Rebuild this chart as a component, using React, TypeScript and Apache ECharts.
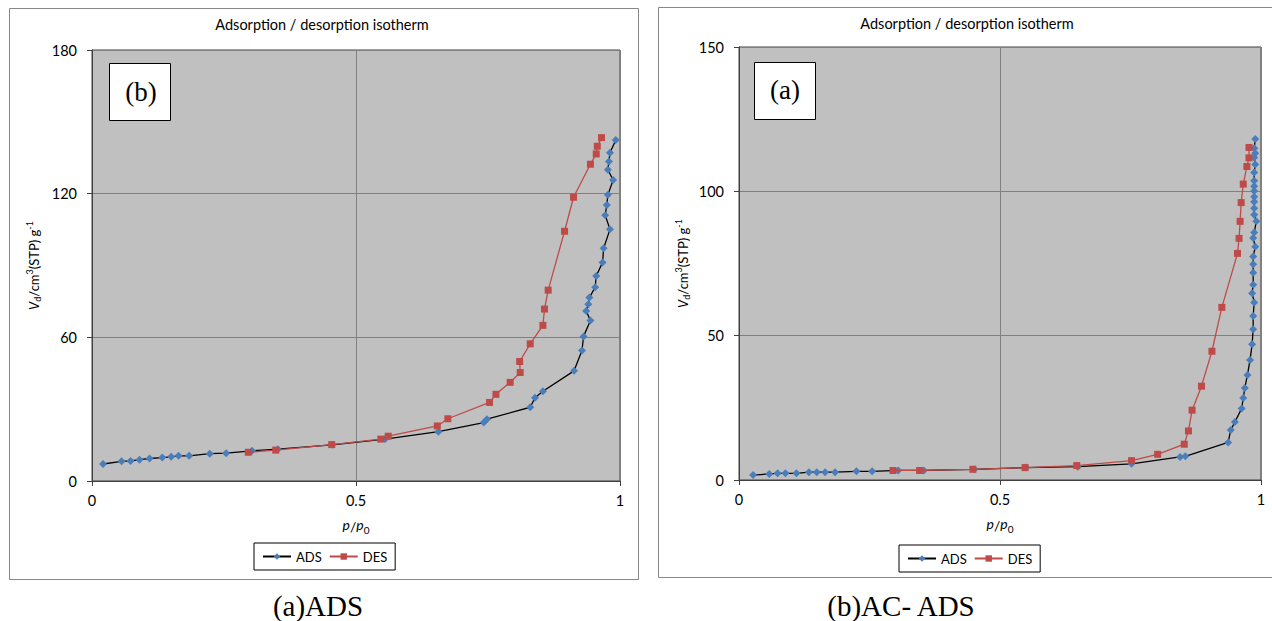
import React, { useEffect, useRef } from "react";
import * as echarts from "echarts";

// ---- Left chart "(b)" – caption (a)ADS ----
const adsLeftX = [0.021, 0.056, 0.073, 0.090, 0.109, 0.133, 0.150, 0.164, 0.184, 0.223, 0.254, 0.303, 0.352, 0.455, 0.555, 0.656, 0.742, 0.748, 0.830, 0.839, 0.854, 0.913, 0.928, 0.931, 0.944, 0.936, 0.940, 0.942, 0.953, 0.955, 0.967, 0.969, 0.981, 0.972, 0.975, 0.977, 0.987, 0.977, 0.979, 0.981, 0.992];
const adsLeftY = [7.1, 8.2, 8.4, 8.9, 9.4, 9.8, 10.1, 10.5, 10.5, 11.4, 11.6, 12.6, 13.3, 15.1, 17.5, 20.6, 24.4, 25.8, 30.8, 34.8, 37.5, 46.0, 54.5, 60.4, 67.0, 71.0, 73.8, 76.6, 80.9, 85.6, 91.3, 97.2, 105.1, 111.0, 115.3, 119.5, 125.7, 130.0, 133.4, 137.1, 142.4];
const desLeftX = [0.965, 0.957, 0.955, 0.944, 0.912, 0.895, 0.864, 0.857, 0.854, 0.830, 0.810, 0.811, 0.792, 0.765, 0.753, 0.674, 0.654, 0.561, 0.547, 0.454, 0.348, 0.296];
const desLeftY = [143.4, 139.8, 136.6, 132.3, 118.5, 104.3, 79.7, 71.8, 65.0, 57.3, 49.9, 45.3, 41.2, 36.2, 32.8, 26.0, 23.0, 18.7, 17.5, 15.2, 12.9, 12.0];

// ---- Right chart "(a)" – caption (b)AC- ADS ----
const adsRightX = [0.027, 0.058, 0.074, 0.089, 0.110, 0.134, 0.149, 0.165, 0.184, 0.225, 0.255, 0.305, 0.354, 0.451, 0.550, 0.649, 0.752, 0.845, 0.855, 0.937, 0.942, 0.950, 0.963, 0.966, 0.969, 0.974, 0.979, 0.983, 0.985, 0.985, 0.987, 0.983, 0.985, 0.985, 0.985, 0.985, 0.989, 0.985, 0.987, 0.991, 0.987, 0.987, 0.987, 0.987, 0.987, 0.987, 0.987, 0.987, 0.989, 0.987, 0.989, 0.987, 0.989];
const adsRightY = [1.7, 2.1, 2.3, 2.3, 2.3, 2.7, 2.7, 2.7, 2.7, 3.0, 3.0, 3.3, 3.3, 3.7, 4.3, 4.6, 5.6, 8.0, 8.2, 13.0, 17.3, 20.1, 24.8, 28.4, 31.9, 36.4, 41.6, 47.0, 52.2, 56.8, 61.5, 64.7, 67.6, 71.8, 74.7, 77.4, 80.8, 83.8, 85.7, 89.6, 91.9, 94.1, 96.4, 98.1, 100.1, 101.8, 103.7, 106.5, 109.3, 111.7, 113.2, 114.9, 118.1];
const desRightX = [0.977, 0.977, 0.973, 0.966, 0.962, 0.960, 0.958, 0.955, 0.925, 0.906, 0.886, 0.868, 0.861, 0.853, 0.802, 0.752, 0.647, 0.548, 0.448, 0.346, 0.295];
const desRightY = [115.2, 111.6, 108.6, 102.5, 96.1, 89.6, 83.7, 78.5, 59.8, 44.6, 32.5, 24.2, 17.0, 12.4, 8.9, 6.7, 5.0, 4.3, 3.7, 3.3, 3.3];

const xTicksMax = 1;
const leftYMax = 180;
const leftYStep = 60;
const rightYMax = 150;
const rightYStep = 50;

const zip = (xs: number[], ys: number[]) => xs.map((x, i) => [x, ys[i]]);

const FONT = "Lato, 'Open Sans', sans-serif";
const SERIF = "'Liberation Serif', 'Times New Roman', serif";
const ADS_BLUE = "#4A7EBB";
const DES_RED = "#BE4B48";

function makeX(gridIndex: number) {
  return {
    type: "value",
    gridIndex,
    min: 0,
    max: xTicksMax,
    interval: 0.5,
    name: "{i|p}/{i|p}{sub|0}",
    nameLocation: "middle",
    nameGap: 36,
    nameTextStyle: {
      color: "#000",
      fontFamily: FONT,
      fontSize: 14,
      rich: {
        i: { fontStyle: "italic", fontSize: 14, fontFamily: FONT, lineHeight: 18, verticalAlign: "top" },
        sub: { fontSize: 10, fontFamily: FONT, verticalAlign: "bottom", lineHeight: 18 },
      },
    },
    axisLine: { show: true, onZero: false, lineStyle: { color: "#404040", width: 1 } },
    axisTick: { show: true, length: 5, inside: false, lineStyle: { color: "#404040" } },
    axisLabel: { color: "#000", fontFamily: FONT, fontSize: 14.5, margin: 12 },
    splitLine: { show: true, lineStyle: { color: "#808080", width: 1 } },
  };
}

function makeY(gridIndex: number, max: number, step: number, gap: number) {
  return {
    type: "value",
    gridIndex,
    min: 0,
    max,
    interval: step,
    name: "{i|V}{sub|d}/cm{sup|3}(STP) g{sup|-1}",
    nameLocation: "middle",
    nameGap: gap,
    nameRotate: 90,
    nameTextStyle: {
      color: "#000",
      fontFamily: FONT,
      fontSize: 13,
      rich: {
        i: { fontStyle: "italic", fontSize: 13, fontFamily: FONT, lineHeight: 17 },
        sub: { fontSize: 9, fontFamily: FONT, verticalAlign: "bottom", lineHeight: 17 },
        sup: { fontSize: 9, fontFamily: FONT, verticalAlign: "top", lineHeight: 17 },
      },
    },
    axisLine: { show: true, onZero: false, lineStyle: { color: "#404040", width: 1 } },
    axisTick: { show: true, length: 5, lineStyle: { color: "#404040" } },
    axisLabel: { color: "#000", fontFamily: FONT, fontSize: 14.5, margin: 15 },
    splitLine: { show: true, lineStyle: { color: "#808080", width: 1 } },
  };
}

function adsSeries(idx: number, data: number[][]) {
  return {
    name: "ADS",
    type: "line",
    xAxisIndex: idx,
    yAxisIndex: idx,
    data,
    symbol: "diamond",
    symbolSize: 8,
    lineStyle: { color: "#000", width: 1.3 },
    itemStyle: { color: ADS_BLUE },
    z: 3,
  };
}

function desSeries(idx: number, data: number[][]) {
  return {
    name: "DES",
    type: "line",
    xAxisIndex: idx,
    yAxisIndex: idx,
    data,
    symbol: "rect",
    symbolSize: 7,
    lineStyle: { color: DES_RED, width: 1.3 },
    itemStyle: { color: DES_RED },
    z: 4,
  };
}

function makeLegend(left: number, top: number) {
  return {
    left,
    top,
    orient: "horizontal",
    data: ["ADS", "DES"],
    padding: [7, 8],
    itemGap: 7,
    itemWidth: 28,
    itemHeight: 8,
    borderColor: "#000",
    borderWidth: 1,
    backgroundColor: "#fff",
    textStyle: { color: "#000", fontFamily: FONT, fontSize: 13 },
    selectedMode: false,
  };
}

export default function App() {
  const ref = useRef<HTMLDivElement>(null);
  useEffect(() => {
    if (!ref.current) return;
    const chart = echarts.init(ref.current, undefined, { renderer: "svg" });
    const option = {
      animation: false,
      backgroundColor: "#fff",
      grid: [
        { left: 92, top: 50, width: 528, height: 431, show: true, backgroundColor: "#C0C0C0", borderColor: "#404040", borderWidth: 1 },
        { left: 739, top: 47, width: 522, height: 433, show: true, backgroundColor: "#C0C0C0", borderColor: "#404040", borderWidth: 1 },
      ],
      xAxis: [makeX(0), makeX(1)],
      yAxis: [makeY(0, leftYMax, leftYStep, 50), makeY(1, rightYMax, rightYStep, 48)],
      legend: [makeLegend(254, 543), makeLegend(899, 545)],
      series: [
        adsSeries(0, zip(adsLeftX, adsLeftY)),
        desSeries(0, zip(desLeftX, desLeftY)),
        adsSeries(1, zip(adsRightX, adsRightY)),
        desSeries(1, zip(desRightX, desRightY)),
      ],
      graphic: [
        { type: "rect", shape: { x: 9.5, y: 8.5, width: 629, height: 571 }, style: { fill: "none", stroke: "#888", lineWidth: 1 }, z: 0, silent: true },
        { type: "rect", shape: { x: 658.5, y: 7.5, width: 620, height: 570 }, style: { fill: "none", stroke: "#888", lineWidth: 1 }, z: 0, silent: true },
        { type: "text", x: 322, y: 24, style: { text: "Adsorption / desorption isotherm", fontFamily: FONT, fontSize: 14.5, fill: "#000", textAlign: "center", textVerticalAlign: "middle" } },
        { type: "text", x: 967, y: 23, style: { text: "Adsorption / desorption isotherm", fontFamily: FONT, fontSize: 14.5, fill: "#000", textAlign: "center", textVerticalAlign: "middle" } },
        { type: "rect", shape: { x: 109.5, y: 63.5, width: 61, height: 57 }, style: { fill: "#fff", stroke: "#000", lineWidth: 1 }, z: 10 },
        { type: "text", x: 141, y: 92, z: 11, style: { text: "(b)", fontFamily: SERIF, fontSize: 27, fill: "#000", textAlign: "center", textVerticalAlign: "middle" } },
        { type: "rect", shape: { x: 754.5, y: 62.5, width: 61, height: 57 }, style: { fill: "#fff", stroke: "#000", lineWidth: 1 }, z: 10 },
        { type: "text", x: 785, y: 90, z: 11, style: { text: "(a)", fontFamily: SERIF, fontSize: 27, fill: "#000", textAlign: "center", textVerticalAlign: "middle" } },
        { type: "text", x: 318, y: 606, style: { text: "(a)ADS", fontFamily: SERIF, fontSize: 29, fill: "#000", textAlign: "center", textVerticalAlign: "middle" } },
        { type: "text", x: 901, y: 606, style: { text: "(b)AC- ADS", fontFamily: SERIF, fontSize: 29, fill: "#000", textAlign: "center", textVerticalAlign: "middle" } },
      ],
    };
    chart.setOption(option as any);
    return () => chart.dispose();
  }, []);
  return (
    <div style={{ position: "fixed", left: 0, top: 0, width: 1272, height: 621, background: "#fff" }}>
      <div ref={ref} style={{ width: 1272, height: 621 }} />
    </div>
  );
}
